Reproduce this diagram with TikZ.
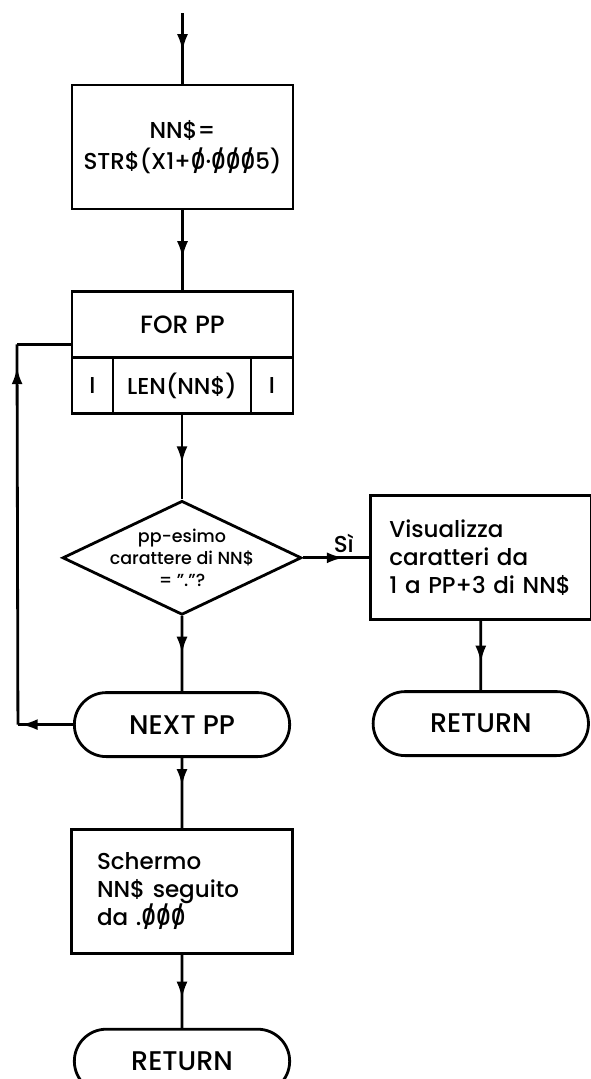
\documentclass[tikz,border=0pt]{standalone}
\usepackage{fontspec}
\setmainfont{Poppins}[UprightFont={* Medium}]
\usetikzlibrary{
    shapes.geometric,
    shapes.misc,
    positioning,
    arrows.meta,
    decorations.markings,
}
\newcommand{\zslash}{\ooalign{0\cr\hidewidth/\hidewidth\cr}}
\tikzset{
    process/.style={rectangle, draw, minimum height=124pt, minimum width=221pt, align=center, font=\fontsize{23}{31}\selectfont},
    textbox/.style={process, align=left, text width=#1, font=\fontsize{23}{28}\selectfont},
    loophead/.style={rectangle, draw, outer sep=0pt, minimum height=66pt, minimum width=221pt, font=\fontsize{25}{30}\selectfont},
    loopcell/.style={rectangle, draw, outer sep=0pt, minimum height=56pt, font=\fontsize{23}{28}\selectfont},
    decision/.style={diamond, draw, aspect=2.1, inner sep=-10pt, align=center, minimum width=239pt, minimum height=114pt, font=\fontsize{17.5}{22}\selectfont},
    terminal/.style={rounded rectangle, draw, minimum height=64pt, minimum width=222pt, font=\fontsize{27}{32}\selectfont},
    answer/.style={font=\fontsize{23}{26}\selectfont},
    flow/.style={postaction={decorate}, decoration={markings, mark=at position #1 with {\arrow{Latex[length=17pt,width=11pt]}}}},
    flow/.default=0.58,
}

\begin{document}
\begin{tikzpicture}[x=1pt, y=-1pt, line width=2.8pt]
    \useasboundingbox (0,0) rectangle (590,1079);

    \coordinate (start) at (182.5,13);
    \node[process] (nnstr) at (182.5,147) {NN\$=\\STR\$(X1+\zslash·\zslash\zslash\zslash5)};

    \node[loophead, below=81pt of nnstr] (forpp) {FOR PP};
    \node[loopcell, minimum width=41pt, anchor=north west] (from) at (forpp.south west) {I};
    \node[loopcell, minimum width=138pt, right=0pt of from] (to) {LEN(NN\$)};
    \node[loopcell, minimum width=42pt, right=0pt of to] (stepcell) {I};

    \node[decision, below=86pt of to] (isdot) {pp-esimo\\carattere di NN\$\\= "."?};

    \node[textbox=183pt, right=66pt of isdot] (show) {Visualizza\\caratteri da\\1 a PP+3 di NN\$};
    \node[terminal, below=69pt of show] (ret_show) {RETURN};

    \node[terminal, below=75pt of isdot] (nextpp) {NEXT PP};

    \node[textbox=170pt, below=70pt of nextpp] (screen) {Schermo\\NN\$ seguito\\da .\zslash\zslash\zslash};
    \node[terminal, below=73pt of screen] (ret_screen) {RETURN};

    \path (nextpp.west) ++(-55,0) coordinate (loopbot);
    \path (forpp.west) ++(-55,20) coordinate (looptop);

    % connections
    \draw[flow=0.54] (start) -- (nnstr);
    \draw[flow=0.59] (nnstr) -- (forpp);
    \draw[flow] (to) -- (isdot);
    \draw[flow=0.62] (isdot) -- node[answer, above, pos=0.62] {Sì} (show);
    \draw[flow=0.6] (show) -- (ret_show);
    \draw[flow=0.5] (isdot) -- (nextpp);
    \draw[flow=0.4] (nextpp) -- (screen);
    \draw[flow=0.6] (screen) -- (ret_screen);

    \draw[flow=0.95] (nextpp.west) -- (loopbot);
    \draw[flow=0.94] (loopbot) -- (looptop);
    \draw (looptop) -- (looptop -| forpp.west);
\end{tikzpicture}
\end{document}
